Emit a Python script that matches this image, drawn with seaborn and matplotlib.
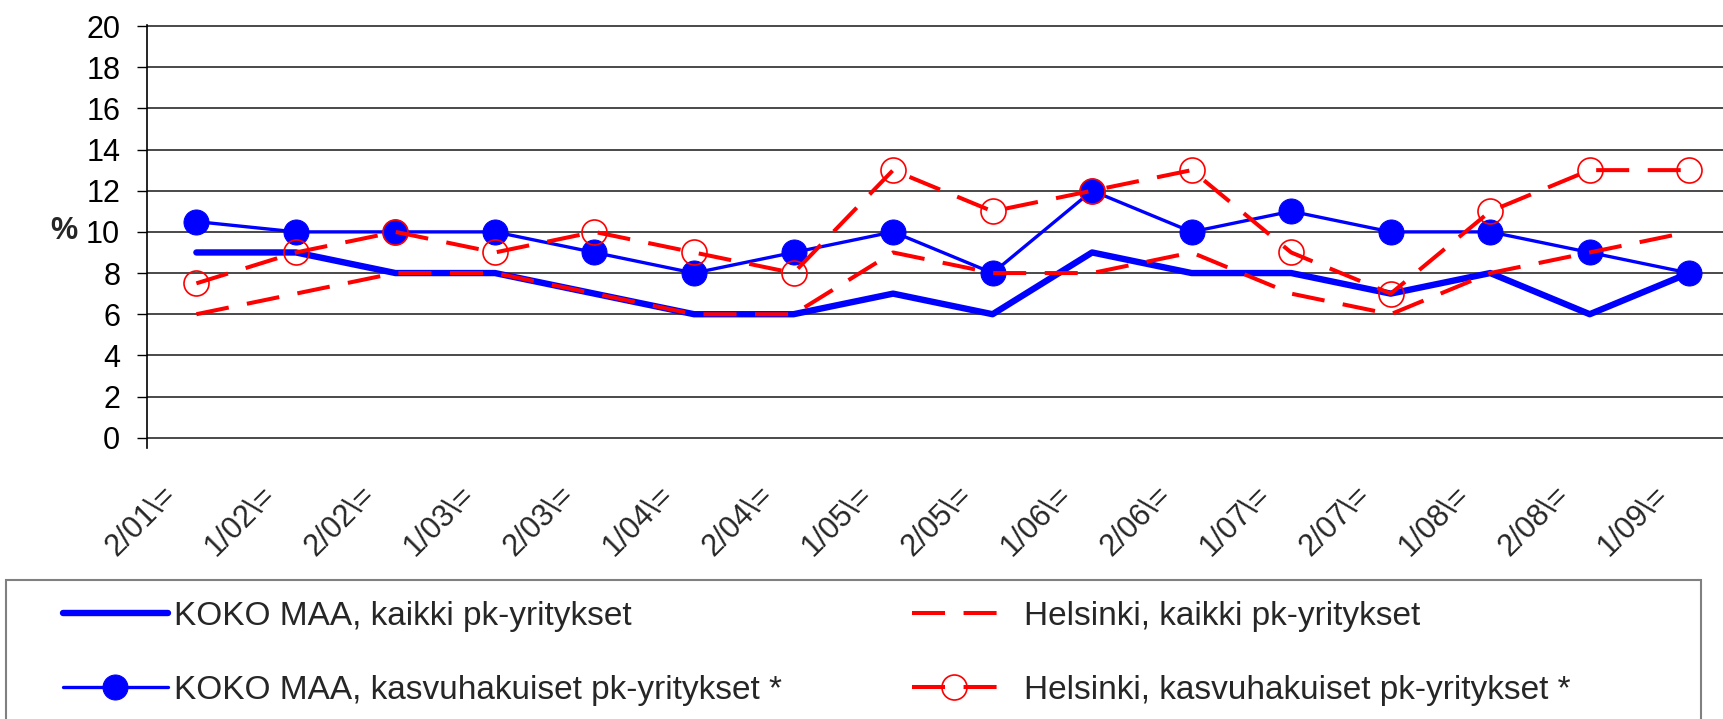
import numpy as np
import pandas as pd
import matplotlib
matplotlib.use('Agg')
import matplotlib.pyplot as plt
import matplotlib.transforms as mtransforms
from matplotlib.patches import Rectangle
import seaborn as sns

# --- Data ---
periods = ['2/01\\=', '1/02\\=', '2/02\\=', '1/03\\=', '2/03\\=', '1/04\\=', '2/04\\=', '1/05\\=',
           '2/05\\=', '1/06\\=', '2/06\\=', '1/07\\=', '2/07\\=', '1/08\\=', '2/08\\=', '1/09\\=']
koko_kaikki = [9, 9, 8, 8, 7, 6, 6, 7, 6, 9, 8, 8, 7, 8, 6, 8]
koko_kasvu = [10.5, 10, 10, 10, 9, 8, 9, 10, 8, 12, 10, 11, 10, 10, 9, 8]
hki_kaikki = [6, 7, 8, 8, 7, 6, 6, 9, 8, 8, 9, 7, 6, 8, 9, 10]
hki_kasvu = [7.5, 9, 10, 9, 10, 9, 8, 13, 11, 12, 13, 9, 7, 11, 13, 13]

labels = ['KOKO MAA, kaikki pk-yritykset',
          'KOKO MAA, kasvuhakuiset pk-yritykset *',
          'Helsinki, kaikki pk-yritykset',
          'Helsinki, kasvuhakuiset pk-yritykset *']

BLUE = '#0000FF'
RED = '#FF0000'
DASH = (0, (8.2, 4.6))

sns.set_theme(style='white')
plt.rcParams['font.family'] = ['Liberation Sans', 'DejaVu Sans']

fig = plt.figure(figsize=(17.23, 7.19), dpi=100)
ax = fig.add_axes([0.0851, 0.3769, 0.9242, 0.5883])

pos = np.arange(len(periods))
df = pd.DataFrame({'pos': pos, 'koko_kaikki': koko_kaikki, 'koko_kasvu': koko_kasvu,
                   'hki_kaikki': hki_kaikki, 'hki_kasvu': hki_kasvu})

sns.lineplot(data=df, x='pos', y='koko_kaikki', ax=ax, color=BLUE, lw=4.6,
             sort=False, label=labels[0])
sns.lineplot(data=df, x='pos', y='koko_kasvu', ax=ax, color=BLUE, lw=2.4, marker='o',
             markersize=18, mfc=BLUE, mec=BLUE, sort=False, label=labels[1])
sns.lineplot(data=df, x='pos', y='hki_kaikki', ax=ax, color=RED, lw=2.9, linestyle=DASH,
             sort=False, label=labels[2])
sns.lineplot(data=df, x='pos', y='hki_kasvu', ax=ax, color=RED, lw=2.9, linestyle=DASH,
             marker='o', markersize=18, mfc='none', mec=RED, mew=1.2, sort=False,
             label=labels[3])

lines = ax.get_lines()
for ln in lines:
    ln.set_clip_on(False)
ax.get_legend().remove()

# axes styling
ax.set_xlim(-0.5, 15.5)
ax.set_ylim(-0.5, 20.05)
ax.set_yticks(range(0, 21, 2))
ax.set_xticks(pos)
ax.set_xticklabels(periods, rotation=45, ha='right', va='top', fontsize=22)
ax.tick_params(axis='x', length=0, pad=23)
ax.tick_params(axis='y', left=True, length=7, width=1, color='black', pad=12,
               labelsize=22, labelcolor='black')
shift = mtransforms.ScaledTranslation(-0.145, 0, fig.dpi_scale_trans)
for lbl in ax.get_xticklabels():
    lbl.set_transform(lbl.get_transform() + shift)

ax.grid(axis='y', color='#3a3a3a', lw=1.3)
ax.grid(axis='x', visible=False)
ax.set_axisbelow(True)
for s in ['top', 'right', 'bottom']:
    ax.spines[s].set_visible(False)
ax.spines['left'].set_color('black')
ax.spines['left'].set_linewidth(1.2)

ax.set_xlabel('')
ax.set_ylabel('%', rotation=0, fontsize=22, fontweight='bold', ha='center', va='center')
ax.yaxis.set_label_coords(-0.052, 0.512)

# legend box
fig.patches.append(Rectangle((0.0035, -0.05), 0.9837, 0.2433, transform=fig.transFigure,
                             fill=False, edgecolor='#808080', lw=1.5))

fig.legend(handles=lines[:2], labels=labels[:2], loc='center left',
           bbox_to_anchor=(0.0363, 0.0912), frameon=False, fontsize=24,
           handlelength=3.15, handletextpad=0.2, labelspacing=1.3, borderpad=0,
           borderaxespad=0)
fig.legend(handles=lines[2:], labels=labels[2:], loc='center left',
           bbox_to_anchor=(0.5293, 0.0912), frameon=False, fontsize=24,
           handlelength=2.55, handletextpad=0.8, labelspacing=1.3, borderpad=0,
           borderaxespad=0)

fig.savefig('out.png', dpi=100)
